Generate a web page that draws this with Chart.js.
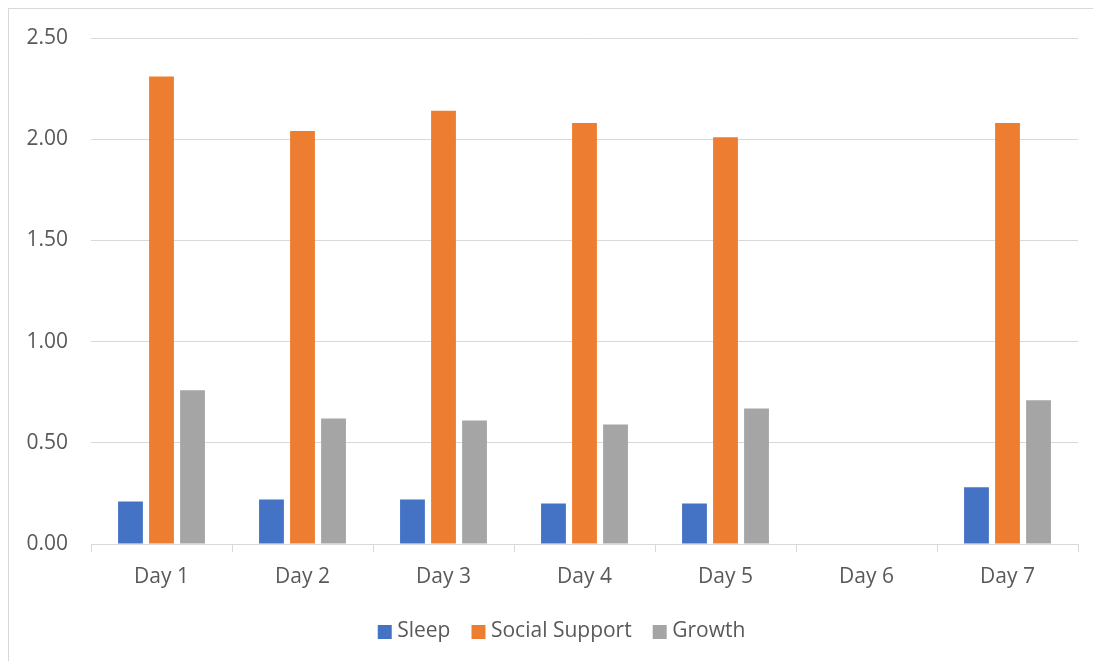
<!DOCTYPE html>
<html lang="en">
<head>
    <meta charset="UTF-8">
    <title>Daily Scores</title>
    <style>
        body {
            margin: 0;
            background: #ffffff;
            overflow: hidden;
        }
        #frame {
            position: absolute;
            left: 8px;
            top: 8px;
            width: 1200px;
            height: 800px;
            border: 1px solid #d9d9d9;
        }
        #chart {
            position: absolute;
            left: 0;
            top: 0;
        }
    </style>
    <script src="https://cdn.jsdelivr.net/npm/chart.js"></script>
</head>
<body>
    <div id="frame"></div>
    <canvas id="chart" width="1093" height="661"></canvas>

    <script>
        // data
        var days = ["Day 1", "Day 2", "Day 3", "Day 4", "Day 5", "Day 6", "Day 7"];
        var sleep = [0.21, 0.22, 0.22, 0.20, 0.20, null, 0.28];
        var socialSupport = [2.31, 2.04, 2.14, 2.08, 2.01, null, 2.08];
        var growth = [0.76, 0.62, 0.61, 0.59, 0.67, null, 0.71];

        var colors = ['#4472c4', '#ed7d31', '#a5a5a5'];
        var textColor = "#595959";
        var lineColor = "#d9d9d9";
        var font = { family: "'Open Sans', 'Noto Sans', sans-serif", size: 21 };

        Chart.defaults.color = textColor;
        Chart.defaults.font = font;

        // legend squares sit close to their text, like Excel does
        function swatch(color) {
            var c = document.createElement('canvas');
            c.width = 30;
            c.height = 14;
            var g = c.getContext('2d');
            g.fillStyle = color;
            g.fillRect(10, 0, 14, 14);
            return c;
        }
        var swatches = colors.map(swatch);

        var barStyle = {
            categoryPercentage: 0.66,
            barPercentage: 0.8,
            borderWidth: 0
        };

        // move the legend a bit right, centred like the original
        var legendShift = {
            id: 'legendShift',
            afterLayout: function (c) {
                c.legend.left += 23;
                c.legend.right += 23;
            }
        };

        new Chart(document.getElementById("chart").getContext("2d"), {
            type: 'bar',
            data: {
                labels: days,
                datasets: [
                    Object.assign({ label: 'Sleep', data: sleep, backgroundColor: colors[0] }, barStyle),
                    Object.assign({ label: 'Social Support', data: socialSupport, backgroundColor: colors[1] }, barStyle),
                    Object.assign({ label: 'Growth', data: growth, backgroundColor: colors[2] }, barStyle)
                ]
            },
            plugins: [legendShift],
            options: {
                responsive: false,
                animation: false,
                layout: {
                    padding: { top: 38, right: 15, left: 0, bottom: 9 }
                },
                plugins: {
                    tooltip: { enabled: false },
                    legend: {
                        position: 'bottom',
                        labels: {
                            boxWidth: 14,
                            boxHeight: 14,
                            usePointStyle: true,
                            pointStyleWidth: 8,
                            padding: 22,
                            color: textColor,
                            font: font,
                            generateLabels: function (chart) {
                                var items = Chart.defaults.plugins.legend.labels.generateLabels(chart);
                                items.forEach(function (it, i) { it.pointStyle = swatches[i]; });
                                return items;
                            }
                        }
                    }
                },
                scales: {
                    x: {
                        afterFit: function (scale) { scale.height = 55; },
                        grid: {
                            offset: true,
                            drawOnChartArea: false,
                            tickLength: 8,
                            color: lineColor
                        },
                        border: { color: lineColor },
                        ticks: { padding: 12, color: textColor }
                    },
                    y: {
                        min: 0,
                        max: 2.5,
                        afterFit: function (scale) { scale.width = 91; },
                        ticks: {
                            stepSize: 0.5,
                            padding: 23,
                            color: textColor,
                            callback: function (v) { return v.toFixed(2); }
                        },
                        grid: {
                            color: lineColor,
                            drawTicks: false
                        },
                        border: { display: false }
                    }
                }
            }
        });
    </script>
</body>
</html>
